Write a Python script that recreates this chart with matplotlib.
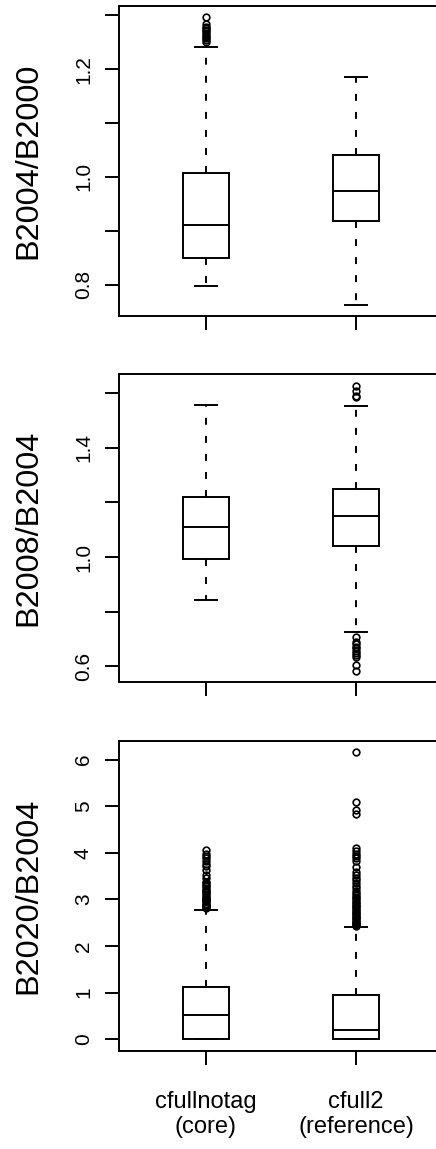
import matplotlib
matplotlib.use("Agg")
import matplotlib.pyplot as plt

plt.rcParams['font.family'] = ['Liberation Sans', 'DejaVu Sans']
plt.rcParams['lines.scale_dashes'] = False

# Runs compared in every panel
groups = ["cfullnotag\n(core)", "cfull2\n(reference)"]

# Biomass ratios shown in the three panels (top to bottom)
ratio_names = ["B2004/B2000", "B2008/B2004", "B2020/B2004"]

# Box summaries, one [core, reference] pair per panel
whisker_low = [[0.797, 0.763], [0.841, 0.726], [0.0, 0.0]]
quart_low = [[0.849, 0.919], [0.993, 1.040], [0.0, 0.0]]
medians = [[0.910, 0.974], [1.111, 1.149], [0.515, 0.208]]
quart_high = [[1.007, 1.041], [1.220, 1.249], [1.116, 0.944]]
whisker_high = [[1.241, 1.185], [1.556, 1.552], [2.78, 2.41]]

# Outlying values beyond the whiskers
outliers_b2004 = [
    [1.251, 1.254, 1.258, 1.260, 1.263, 1.267, 1.270, 1.272, 1.276,
     1.279, 1.283, 1.296],
    [],
]
outliers_b2008 = [
    [],
    [1.627, 1.606, 1.590, 1.586,
     0.708, 0.690, 0.680, 0.672, 0.665, 0.657, 0.648, 0.640, 0.634,
     0.605, 0.583],
]
outliers_b2020 = [
    [2.81, 2.83, 2.85, 2.87, 2.89, 2.91, 2.94, 2.96, 2.98, 3.01, 3.03,
     3.06, 3.09, 3.12, 3.15, 3.18, 3.21, 3.24, 3.28, 3.31, 3.35, 3.38,
     3.45, 3.52, 3.63, 3.71, 3.76, 3.82, 3.88, 3.93, 3.97, 4.07],
    [2.43, 2.45, 2.47, 2.49, 2.52, 2.54, 2.57, 2.60, 2.62, 2.65, 2.68,
     2.71, 2.74, 2.77, 2.80, 2.83, 2.86, 2.89, 2.92, 2.95, 2.98, 3.02,
     3.06, 3.10, 3.14, 3.19, 3.24, 3.29, 3.35, 3.41, 3.47, 3.52, 3.58,
     3.70, 3.82, 3.88, 3.93, 3.98, 4.03, 4.11, 4.84, 4.92, 5.09, 6.16],
]
outliers = [outliers_b2004, outliers_b2008, outliers_b2020]

# Y axis ticks and which of them carry a label
y_ticks = [
    [0.8, 0.9, 1.0, 1.1, 1.2, 1.3],
    [0.6, 0.8, 1.0, 1.2, 1.4, 1.6],
    [0, 1, 2, 3, 4, 5, 6],
]
y_ticklabels = [
    ["0.8", "", "1.0", "", "1.2", ""],
    ["0.6", "", "1.0", "", "1.4", ""],
    ["0", "1", "2", "3", "4", "5", "6"],
]

W, H = 436, 1149
fig = plt.figure(figsize=(W / 100, H / 100), dpi=100)
fig.patch.set_facecolor("white")

# panel frames in pixels: (top, bottom)
frames = [(6.0, 316.0), (374.3, 682.3), (740.7, 1050.7)]
left_px = 119.0
xlim = (0.42, 2.58)
px_per_unit = 150.0
width_px = (xlim[1] - xlim[0]) * px_per_unit

LW = 1.4
positions = [1, 2]

for i, (top, bottom) in enumerate(frames):
    ax = fig.add_axes([left_px / W, 1 - bottom / H, width_px / W,
                       (bottom - top) / H])
    stats = []
    for j in range(2):
        stats.append(dict(
            whislo=whisker_low[i][j], q1=quart_low[i][j], med=medians[i][j],
            q3=quart_high[i][j], whishi=whisker_high[i][j],
            fliers=outliers[i][j],
        ))
    ax.bxp(
        stats, positions=positions, widths=0.31, capwidths=0.145,
        patch_artist=True, manage_ticks=False,
        boxprops=dict(facecolor="white", edgecolor="black", linewidth=LW),
        medianprops=dict(color="black", linewidth=LW),
        whiskerprops=dict(color="black", linewidth=LW, linestyle=(0, (5, 8))),
        capprops=dict(color="black", linewidth=LW),
        flierprops=dict(marker="o", markersize=4.8, markerfacecolor="none",
                        markeredgecolor="black", markeredgewidth=1.2),
    )

    # y range: data extent padded by 4 % on each side
    vals = [v for s in stats for v in
            [s["whislo"], s["q1"], s["med"], s["q3"], s["whishi"]] + list(s["fliers"])]
    lo, hi = min(vals), max(vals)
    pad = 0.04 * (hi - lo)
    ax.set_ylim(lo - pad, hi + pad)
    ax.set_xlim(*xlim)

    for sp in ax.spines.values():
        sp.set_linewidth(LW)
        sp.set_color("black")

    ax.set_yticks(y_ticks[i])
    ax.set_yticklabels(y_ticklabels[i], rotation=90, fontsize=15)
    for lab in ax.get_yticklabels():
        lab.set_va("center")
    ax.set_xticks(positions)
    if i == len(frames) - 1:
        ax.set_xticklabels(groups, fontsize=17)
    else:
        ax.set_xticklabels(["", ""])
    ax.tick_params(axis="y", direction="out", length=10, width=LW, pad=8.8,
                   colors="black")
    ax.tick_params(axis="x", direction="out", length=10, width=LW, pad=19,
                   colors="black")

    ax.text(-(left_px - 28.5) / width_px, 0.5, ratio_names[i],
            transform=ax.transAxes, rotation=90, ha="center", va="center",
            fontsize=23.4, color="black")

fig.savefig("out.png", dpi=100, facecolor="white")
